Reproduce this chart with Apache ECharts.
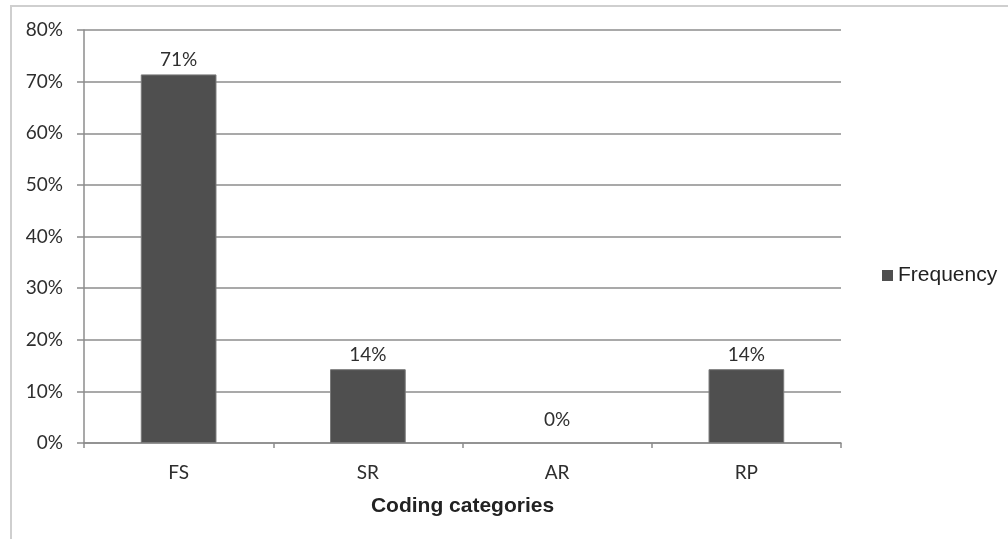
<!DOCTYPE html>
<html>
<head>
<meta charset="utf-8">
<script src="https://cdn.jsdelivr.net/npm/echarts@6/dist/echarts.min.js"></script>
<style>
  html, body { margin: 0; padding: 0; background: #fff; }
  #chart { position: absolute; left: 0; top: 0; width: 1008px; height: 539px; }
  #frame { position: absolute; left: 10px; top: 5px; width: 1100px; height: 600px;
           border-left: 2px solid #cfcfcf; border-top: 2px solid #cfcfcf; pointer-events: none; }
</style>
</head>
<body>
<div id="frame"></div>
<div id="chart"></div>
<script>
const categories = ['FS', 'SR', 'AR', 'RP'];
const frequency = [71.4, 14.3, 0, 14.3];
const yTicks = [0, 10, 20, 30, 40, 50, 60, 70, 80];

const chart = echarts.init(document.getElementById('chart'));
const textColor = '#2e2e2e';
const lineColor = '#8c8c8c';

chart.setOption({
  animation: false,
  backgroundColor: 'transparent',
  grid: { left: 84, right: 167, top: 30, bottom: 96 },
  legend: {
    data: ['Frequency'],
    left: 877,
    top: 260,
    icon: 'rect',
    itemWidth: 11,
    itemHeight: 11,
    itemGap: 5,
    itemStyle: { borderWidth: 0 },
    textStyle: { fontFamily: 'Liberation Sans', fontSize: 21, color: '#222' }
  },
  xAxis: {
    type: 'category',
    data: categories,
    name: 'Coding categories',
    nameLocation: 'middle',
    nameGap: 53,
    nameTextStyle: { fontFamily: 'Liberation Sans', fontSize: 21, fontWeight: 'bold', color: '#222' },
    axisLine: { lineStyle: { color: lineColor, width: 1.5 } },
    axisTick: { show: true, length: 5, lineStyle: { color: lineColor, width: 1.5 } },
    axisLabel: { fontFamily: 'Lato', fontSize: 19, color: textColor, margin: 20 }
  },
  yAxis: {
    type: 'value',
    min: yTicks[0],
    max: yTicks[yTicks.length - 1],
    interval: 10,
    axisLine: { show: true, lineStyle: { color: lineColor, width: 1.5 } },
    axisTick: { show: true, length: 7, lineStyle: { color: lineColor, width: 1.5 } },
    splitLine: { show: true, lineStyle: { color: lineColor, width: 1.5 } },
    axisLabel: { fontFamily: 'Lato', fontSize: 19, color: textColor, margin: 21,
                 formatter: '{value}%' }
  },
  series: [{
    name: 'Frequency',
    type: 'bar',
    barWidth: '40%',
    data: frequency.map(v => v === 0
      ? { value: v, label: { distance: 14 }, itemStyle: { borderWidth: 0 } }
      : v),
    itemStyle: { color: '#4f4f4f', borderColor: '#7a7a7a', borderWidth: 1 },
    label: {
      show: true,
      position: 'top',
      distance: 5,
      fontFamily: 'Lato',
      fontSize: 19,
      color: textColor,
      formatter: p => Math.round(p.value) + '%'
    }
  }]
});
</script>
</body>
</html>
